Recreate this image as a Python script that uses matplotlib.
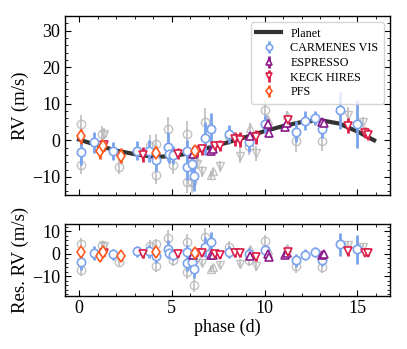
import matplotlib
matplotlib.use("Agg")
import matplotlib.pyplot as plt
from matplotlib.ticker import MultipleLocator
from matplotlib.lines import Line2D

plt.rcParams['font.family'] = ['Liberation Serif', 'DejaVu Serif']
plt.rcParams['mathtext.fontset'] = 'stix'

# ---- model curve ----
model_phase = [0, 1, 2, 3, 4, 5, 6, 7, 8, 9, 10, 11, 12, 13, 14, 15, 15.9]
model_rv = [0.2, -1.4, -2.8, -3.8, -4.5, -4.4, -3.5, -2.0, -0.6, 0.9, 2.5, 3.9, 5.0, 5.5, 4.6, 2.4, 0.0]

# ---- CARMENES VIS ----
car_phase = [0.11, 0.83, 1.81, 3.14, 3.79, 4.15, 4.80, 4.85, 5.08, 5.83, 5.83, 6.10, 6.20,
             6.80, 7.10, 8.10, 9.17, 10.0, 11.7, 12.2, 12.7, 13.1, 14.05, 15.0]
car_rv = [-3.3, -0.6, -3.0, -2.8, -3.0, -5.4, -1.8, -3.8, -4.0, -7.3, -2.9, -6.6, -9.8,
          0.6, 3.0, 1.8, -0.6, 4.5, 2.4, 5.4, 6.1, 3.0, 8.2, 4.4]
car_err = [3.5, 3.0, 2.5, 2.5, 3.0, 3.0, 4.0, 2.5, 2.5, 3.5, 3.0, 3.5, 4.0,
           4.5, 4.5, 2.5, 2.5, 2.5, 3.0, 2.5, 2.0, 2.5, 5.0, 6.5]
car_res = [-3.6, 0.4, -0.2, 1.1, 1.1, -1.0, 2.3, 0.5, -0.4, -3.9, 0.8, -3.6, -6.9,
           3.0, 5.3, 0.8, 0.0, 1.6, -2.9, -0.4, 0.8, -2.9, 4.2, 1.9]

# ---- ESPRESSO ----
esp_phase = [6.15, 7.10, 7.20, 9.20, 10.20, 10.25, 11.10, 11.20, 13.10, 13.20]
esp_rv = [-3.7, -3.0, -2.5, 1.1, 4.5, 2.0, 3.6, 4.7, 5.1, 4.7]
esp_err = [1.0, 1.0, 1.0, 1.2, 1.2, 1.0, 1.0, 1.0, 1.0, 1.0]
esp_res = [-0.7, -0.7, -0.7, -1.0, 0.0, -1.4, -0.7, 0.5, -0.7, -0.3]

# ---- KECK HIRES ----
keck_phase = [1.36, 3.43, 5.35, 6.33, 6.60, 7.32, 7.60, 8.40, 8.67, 9.56, 11.27, 14.5, 15.4, 15.57]
keck_rv = [-1.4, -3.9, -3.7, -3.0, -2.5, -1.6, -1.5, 0.4, 0.2, 0.9, 5.5, 4.0, 2.0, 1.5]
keck_err = [1.5, 2.0, 1.5, 1.5, 1.5, 1.5, 1.5, 2.0, 2.0, 2.0, 1.5, 2.0, 1.5, 1.5]
keck_res = [0.5, 0.0, 0.0, 0.4, 0.4, -0.3, -0.4, 0.5, 0.5, -1.4, 0.8, 1.1, 0.4, 0.4]

# ---- PFS ----
pfs_phase = [0.11, 1.13, 1.27, 2.24, 4.15, 6.25]
pfs_rv = [1.1, -3.0, -1.5, -4.2, -3.6, -2.8]
pfs_err = [2.0, 2.0, 1.5, 2.0, 2.0, 1.5]
pfs_res = [0.8, -1.0, 0.8, -1.0, 0.7, 0.4]

# ---- grey (other-signal) points ----
gc_phase = [0.11, 0.11, 1.26, 2.15, 3.80, 4.15, 4.15, 4.80, 5.08, 5.83, 5.83, 6.10, 6.20,
            6.80, 8.10, 9.17, 10.0, 11.7, 13.1]
gc_rv = [4.5, -6.8, 1.8, -7.3, -1.6, -9.5, -0.9, 3.0, -6.8, 1.8, -11.5, -11.5, -5.5,
         4.9, 1.3, -1.5, 8.4, -0.3, -0.3]
gc_err = [2.5, 2.5, 2.0, 2.0, 3.0, 2.5, 2.5, 3.5, 2.5, 3.5, 3.0, 3.0, 3.5,
          4.0, 2.5, 2.5, 2.5, 3.0, 2.5]
gc_res = [4.5, -7.3, 3.8, -3.6, 3.3, -5.4, 4.2, 7.2, -2.9, 5.3, -8.1, -5.0, -13.6,
          7.5, 3.0, -2.9, 5.7, -5.6, -5.9]

gt_phase = [7.10, 7.20, 9.20, 10.20, 11.20]
gt_rv = [-9.5, -8.5, 3.4, 5.6, 7.0]
gt_err = [1.0, 1.0, 1.2, 1.2, 1.0]
gt_res = [-6.6, -5.8, 2.0, 1.5, 2.5]

gv_phase = [1.36, 6.33, 6.60, 7.60, 8.67, 9.56, 14.5, 15.3]
gv_rv = [1.8, -6.4, -8.5, -7.1, -4.2, -3.6, 7.0, 4.9]
gv_err = [1.5, 1.5, 1.5, 1.5, 2.0, 2.0, 2.0, 1.5]
gv_res = [3.5, -2.5, -4.0, -4.8, -4.4, -5.6, 3.8, 3.0]

fig = plt.figure(figsize=(4.07, 3.49), dpi=100)
ax1 = fig.add_axes([0.160, 0.441, 0.798, 0.513])
ax2 = fig.add_axes([0.160, 0.153, 0.798, 0.204])

grey = '#b8b8b8'
ms = 6

def grey_pts(ax, x, y, e, m):
    ax.errorbar(x, y, yerr=e, fmt=m, ms=ms, mfc='none', mec=grey, ecolor=grey,
                elinewidth=1.3, mew=1.0, alpha=0.85, zorder=1)

instr = [
    ('CARMENES VIS', car_phase, car_rv, car_err, car_res, 'o', '#7aa3ee'),
    ('ESPRESSO', esp_phase, esp_rv, esp_err, esp_res, '^', '#8b1a8b'),
    ('KECK HIRES', keck_phase, keck_rv, keck_err, keck_res, 'v', '#dc1e46'),
    ('PFS', pfs_phase, pfs_rv, pfs_err, pfs_res, 'd', '#ff5a1e'),
]

for ax, which in ((ax1, 'rv'), (ax2, 'res')):
    grey_pts(ax, gc_phase, gc_rv if which == 'rv' else gc_res, gc_err, 'o')
    grey_pts(ax, gt_phase, gt_rv if which == 'rv' else gt_res, gt_err, '^')
    grey_pts(ax, gv_phase, gv_rv if which == 'rv' else gv_res, gv_err, 'v')

ax1.plot(model_phase, model_rv, color='#333333', lw=3, zorder=2, label='Planet')

handles = [Line2D([0], [0], color='#333333', lw=3)]
labels = ['Planet']
for name, ph, rv, er, rs, m, c in instr:
    h = ax1.errorbar(ph, rv, yerr=er, fmt=m, ms=ms, mfc='white', mec=c, ecolor=c,
                     elinewidth=2.0, mew=1.2, zorder=3, label=name)
    ax2.errorbar(ph, rs, yerr=er, fmt=m, ms=ms, mfc='white', mec=c, ecolor=c,
                 elinewidth=2.0, mew=1.2, zorder=3)
    handles.append(h)
    labels.append(name)

leg = ax1.legend(handles, labels, loc='upper right', fontsize=8.7, frameon=True,
                 fancybox=True, framealpha=0.8, handlelength=2.0, borderpad=0.45,
                 labelspacing=0.22, handletextpad=0.8, markerscale=0.75,
                 borderaxespad=0.5)

for ax in (ax1, ax2):
    ax.set_xlim(-0.75, 16.75)
    ax.xaxis.set_major_locator(MultipleLocator(5))
    ax.xaxis.set_minor_locator(MultipleLocator(1))
    ax.yaxis.set_minor_locator(MultipleLocator(2))
    ax.tick_params(which='both', direction='in', top=True, right=True, labelsize=13)
    ax.tick_params(which='major', length=4.5)
    ax.tick_params(which='minor', length=2.5)
    for s in ax.spines.values():
        s.set_linewidth(1.0)

ax1.set_ylim(-15, 34)
ax1.yaxis.set_major_locator(MultipleLocator(10))
ax1.tick_params(labelbottom=False)
ax1.set_ylabel('RV (m/s)', fontsize=13.5, labelpad=2)

ax2.set_ylim(-18.5, 13)
ax2.yaxis.set_major_locator(MultipleLocator(10))
ax2.set_ylabel('Res. RV (m/s)', fontsize=13.5, labelpad=2)
ax2.set_xlabel('phase (d)', fontsize=13, labelpad=1)

fig.savefig('out.png', dpi=100)
